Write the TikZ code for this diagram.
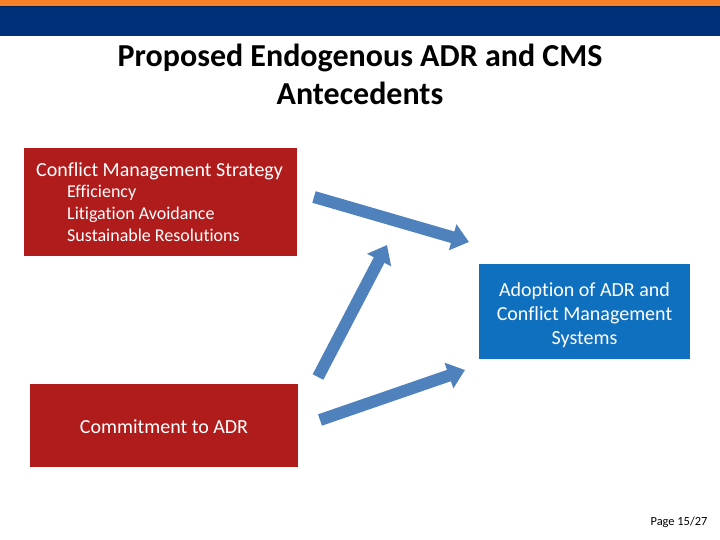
\documentclass[tikz,border=0pt]{standalone}
\usepackage{fontspec}
\setmainfont[Ligatures=NoCommon]{Carlito}
\usetikzlibrary{positioning,arrows.meta}
\definecolor{barorange}{RGB}{245,128,37}
\definecolor{barnavy}{RGB}{0,48,122}
\definecolor{boxred}{RGB}{176,28,28}
\definecolor{boxblue}{RGB}{16,112,192}
\definecolor{arrowblue}{RGB}{79,129,189}
\begin{document}
\begin{tikzpicture}[x=1pt,y=-1pt,
  redbox/.style={fill=boxred, text=white, inner sep=0pt},
  bluebox/.style={fill=boxblue, text=white, inner sep=0pt},
  bigarrow/.style={arrowblue, line width=12pt, -{Triangle[length=17pt,width=26pt]}}]
\useasboundingbox (0,0) rectangle (720,540);
\fill[barorange] (0,0) rectangle (720,6);
\fill[barnavy!70!black] (0,6) rectangle (720,7.5);
\fill[barnavy] (0,7.5) rectangle (720,36);
\node[font=\bfseries\fontsize{32}{38}\selectfont, align=center] (title) at (360,74) {Proposed Endogenous ADR and CMS\\Antecedents};
\fill[boxred] (24,148) rectangle (297,256);
\node[anchor=base west, text=white, inner sep=0pt, font=\fontsize{20}{22}\selectfont] (cms) at (36,176.5) {Conflict Management Strategy};
\node[anchor=base west, text=white, inner sep=0pt, font=\fontsize{18}{21.5}\selectfont] (item1) at (67,198) {Efficiency};
\node[anchor=base west, text=white, inner sep=0pt, font=\fontsize{18}{21.5}\selectfont] (item2) at (67,219.5) {Litigation Avoidance};
\node[anchor=base west, text=white, inner sep=0pt, font=\fontsize{18}{21.5}\selectfont] (item3) at (67,241) {Sustainable Resolutions};
\node[bluebox, minimum width=211pt, minimum height=95pt] (adopt) at (584.5,311.5) {};
\node[text=white, align=center, font=\fontsize{20}{24}\selectfont] (adopttext) at (584.5,315) {Adoption of ADR and\\Conflict Management\\Systems};
\node[redbox, minimum width=268pt, minimum height=83pt] (commit) at (164,425.5) {};
\node[text=white, font=\fontsize{20}{22}\selectfont] (committext) at (164,427) {Commitment to ADR};
\node[font=\fontsize{12.4}{14}\selectfont] (page) at (679,522) {Page 15/27};
\coordinate (a1s) at (314,197);
\coordinate (a1e) at (469,242);
\coordinate (a2s) at (318,377);
\coordinate (a2e) at (387,245);
\coordinate (a3s) at (320,420);
\coordinate (a3e) at (465,370);
\draw[bigarrow] (a1s) -- (a1e);
\draw[bigarrow] (a2s) -- (a2e);
\draw[bigarrow] (a3s) -- (a3e);
\end{tikzpicture}
\end{document}
